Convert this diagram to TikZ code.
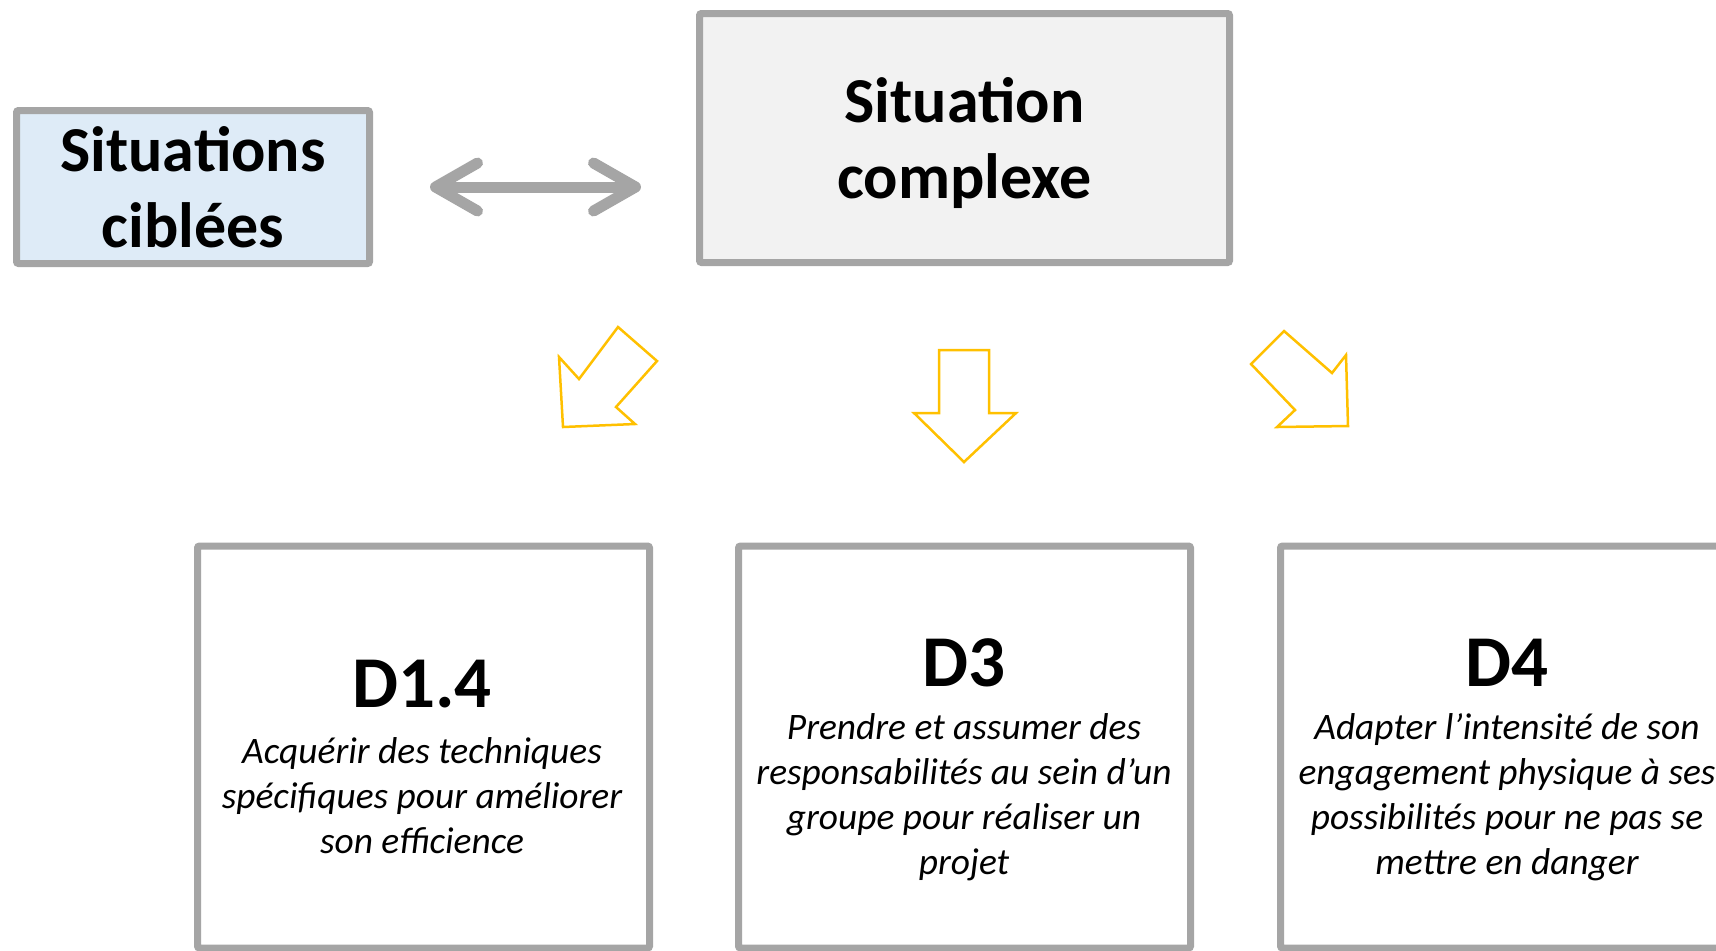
\documentclass[tikz,border=0pt]{standalone}
\usepackage{fontspec}
\setmainfont{Carlito}
\usepackage{xcolor}
\definecolor{Col1}{RGB}{165,165,165}
\definecolor{Col2}{RGB}{255,192,0}
\definecolor{Col3}{RGB}{222,235,247}
\definecolor{Col4}{RGB}{242,242,242}
\usetikzlibrary{arrows.meta}
\tikzstyle{Box}=[draw=Col1,line width=3.5pt,rounded corners=1pt,inner sep=0pt]
\tikzstyle{BoxTop}=[Box,align=center,
font=\fontsize{32}{38}\selectfont\bfseries]
\tikzstyle{BoxD}=[Box,fill=white,minimum width=226pt,minimum height=201pt]
\tikzstyle{NodeD}=[font=\fontsize{36.5}{40}\selectfont\bfseries,inner sep=0pt,
anchor=base]
\tikzstyle{NodeTxt}=[font=\fontsize{18.7}{22.5}\selectfont\itshape,
align=center,inner sep=0pt]
\tikzstyle{Edge}=[draw=Col1,line width=5.5pt,line cap=round,
{Straight Barb[length=21pt,width=24pt,round]}-{Straight Barb[length=21pt,width=24pt,round]}]
\tikzstyle{Block}=[draw=Col2,line width=1.25pt,line join=miter]

\begin{document}
\begin{tikzpicture}[x=.5pt,y=.5pt]
        \useasboundingbox(0.00,0.00)rectangle(1716.00,-950.00);
        \node[BoxTop,fill=Col3,minimum width=176.5pt,minimum height=76.5pt]
            (cib)at(193.00,-187.00){Situations\\ciblées};
        \node[BoxTop,fill=Col4,minimum width=265pt,minimum height=124.5pt]
            (cplx)at(964.50,-138.00){\rule{0pt}{28pt}Situation\\complexe};
        \draw[Edge,shorten <=28.5pt,shorten >=27.5pt](cib.east)--(cib.east-|cplx.west);
        \draw[Block](618.00,-327.00)--(657.00,-361.00)--(616.00,-407.00)
            --(635.00,-424.00)--(563.00,-427.00)--(559.00,-357.00)
            --(579.00,-379.00)--cycle;
        \draw[Block](939.00,-350.00)--(989.00,-350.00)--(989.00,-413.00)
            --(1016.00,-413.00)--(964.00,-462.00)--(914.00,-413.00)
            --(939.00,-413.00)--cycle;
        \draw[Block](1284.00,-331.00)--(1332.00,-373.00)--(1346.00,-355.00)
            --(1348.00,-426.00)--(1277.00,-427.00)--(1295.00,-410.00)
            --(1251.00,-364.00)--cycle;
        \node[BoxD](d14box)at(423.50,-747.00){};
        \node[BoxD](d3box)at(964.50,-747.00){};
        \node[BoxD](d4box)at(1506.50,-747.00){};
        \node[NodeD](d14)at(422.00,-707.00){D1.4};
        \node[NodeD](d3)at(964.00,-686.50){D3};
        \node[NodeD](d4)at(1507.00,-686.50){D4};
        \node[NodeTxt](d14txt)at(422.00,-796.00)
            {Acquérir des techniques\\spécifiques pour améliorer\\son efficience};
        \node[NodeTxt](d3txt)at(964.00,-797.00)
            {Prendre et assumer des\\responsabilités au sein d’un\\groupe pour réaliser un\\projet};
        \node[NodeTxt](d4txt)at(1507.00,-797.00)
            {Adapter l’intensité de son\\engagement physique à ses\\possibilités pour ne pas se\\mettre en danger};
    \end{tikzpicture}
\end{document}
